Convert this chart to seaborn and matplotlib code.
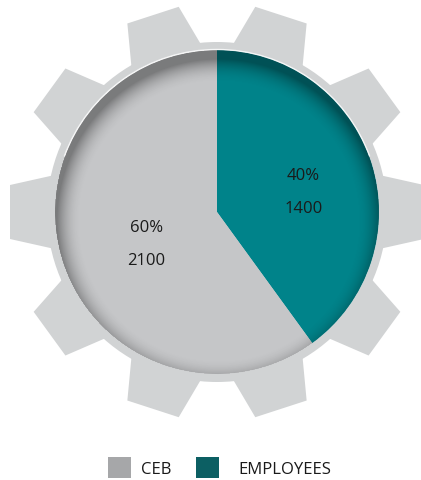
import numpy as np
import matplotlib
matplotlib.use("Agg")
import matplotlib.pyplot as plt
import seaborn as sns
from matplotlib.patches import Circle, Polygon, Rectangle, Arc

sns.set_theme(style="white")
plt.rcParams["font.family"] = ["Open Sans", "DejaVu Sans"]

# Data
categories = ["EMPLOYEES", "CEB"]
counts = [1400, 2100]
legend_order = ["CEB", "EMPLOYEES"]

colors = {"EMPLOYEES": "#00838A", "CEB": "#C5C6C8"}
legend_colors = {"EMPLOYEES": "#0C5F63", "CEB": "#A6A7A9"}
gear_color = "#D1D3D4"

W, H = 421, 481
fig = plt.figure(figsize=(W / 100, H / 100), dpi=100)
ax = fig.add_axes([0, 0, 1, 1])

cx, cy = 217, 213
R_pie = 162
R_body = 170
R_tip = 207
n_teeth = 10

# Gear: body disc plus trapezoid teeth
ax.add_patch(Circle((cx, cy), R_body, color=gear_color, lw=0, zorder=1))
for k in range(n_teeth):
    th = np.deg2rad(k * 360 / n_teeth)
    u = np.array([np.cos(th), -np.sin(th)])      # radial (y down)
    v = np.array([np.sin(th), np.cos(th)])       # tangential
    c = np.array([cx, cy])
    base_r, base_w = 160, 37.5
    tip_w = 27
    pts = [c + u * base_r - v * base_w,
           c + u * R_tip - v * tip_w,
           c + u * R_tip + v * tip_w,
           c + u * base_r + v * base_w]
    ax.add_patch(Polygon(pts, closed=True, color=gear_color, lw=0, zorder=1))

# Pie (y axis inverted, so counterclock=True runs clockwise on screen)
wedges, _ = ax.pie(counts, colors=[colors[c] for c in categories],
                   startangle=-90, counterclock=True,
                   center=(cx, cy), radius=R_pie,
                   wedgeprops=dict(lw=0), frame=True)
for w in wedges:
    w.set_zorder(2)
ax.set_xlim(0, W)
ax.set_ylim(H, 0)
ax.set_aspect("equal")
ax.axis("off")

# Inner shading toward the rim of the pie, heaviest along the top
yy, xx = np.mgrid[0:H, 0:W] + 0.5
d_shift = np.hypot(xx - (cx + 2), yy - (cy + 9))
d = np.hypot(xx - cx, yy - cy)
edge = np.clip((d_shift - (R_pie - 24)) / 24, 0, 1) ** 2.0
alpha = np.where(d <= R_pie, edge * 0.38, 0)
shade = np.zeros((H, W, 4))
shade[..., 3] = alpha
im = ax.imshow(shade, extent=(0, W, H, 0), zorder=3, interpolation="bilinear")
im.set_clip_path(Circle((cx, cy), R_pie, transform=ax.transData))
ax.set_xlim(0, W)
ax.set_ylim(H, 0)

# Thin light highlight along the lower rim
ax.add_patch(Arc((cx, cy), 2 * R_pie + 1, 2 * R_pie + 1, theta1=200, theta2=340,
                 color="white", lw=1.0, alpha=0.8, zorder=4))

# Value labels placed on each wedge's mid-angle
total = sum(counts)
label_r = {"EMPLOYEES": 0.56, "CEB": 0.46}
for w, cat, val in zip(wedges, categories, counts):
    mid = np.deg2rad((w.theta1 + w.theta2) / 2)
    r = label_r[cat] * R_pie
    lx = cx + r * np.cos(mid)
    ly = cy + r * np.sin(mid) + 8
    ax.text(lx, ly - 16.5, f"{round(val / total * 100)}%", ha="center", va="center",
            fontsize=12, color="#1a1a1a", zorder=5)
    ax.text(lx, ly + 16.5, f"{val}", ha="center", va="center",
            fontsize=12, color="#1a1a1a", zorder=5)

# Legend row: swatch then label for each category
swatch_x = {"CEB": 108, "EMPLOYEES": 196}
text_x = {"CEB": 141, "EMPLOYEES": 238}
for cat in legend_order:
    ax.add_patch(Rectangle((swatch_x[cat], 458), 23, 21, facecolor=legend_colors[cat],
                           edgecolor="none", zorder=5))
    ax.text(text_x[cat], 470, cat, ha="left", va="center", fontsize=12,
            color="#1a1a1a", zorder=5)

fig.savefig("out.png", dpi=100, facecolor="white")
